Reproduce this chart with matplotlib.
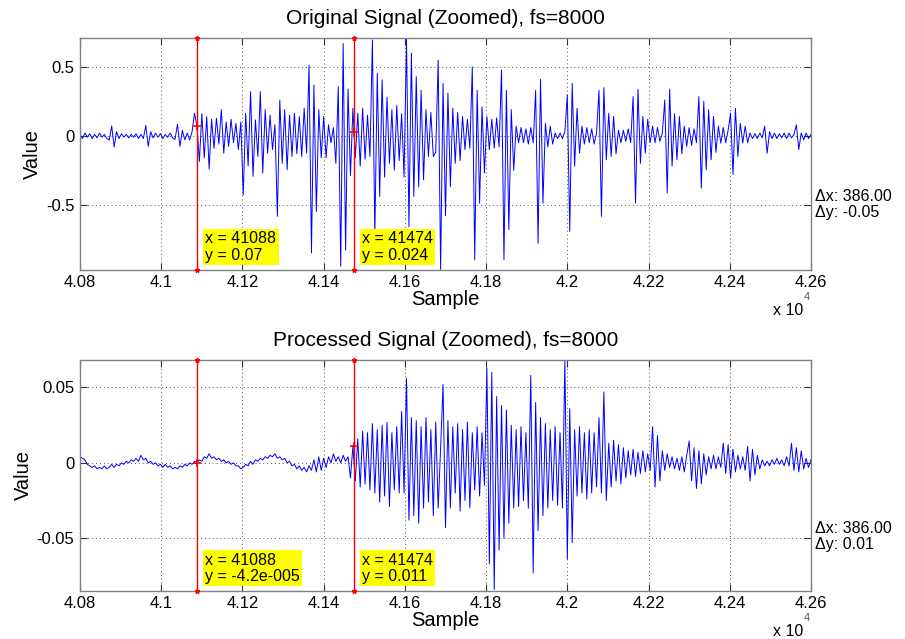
import matplotlib
matplotlib.use("Agg")
import matplotlib.pyplot as plt
import numpy as np
from matplotlib.ticker import FuncFormatter


# sample axis of the zoomed window (one value read every 6 samples)
SAMPLE_START = 40800
SAMPLE_STEP = 6
X_LIMITS = (40800, 42600)
X_TICKS = list(range(40800, 42601, 200))

ORIGINAL_VALUES = [
    0.01, -0.02, 0.02, -0.01, 0.015, -0.02, 0.01, -0.015, 0.02, -0.01, 0.01, -0.02, -0.03,
    0.072, -0.082, 0.03, -0.02, 0.015, -0.01, 0.01, -0.015, 0.01, -0.01, 0.015, -0.02,
    0.01, -0.02, 0.075, -0.077, 0.03, -0.015, 0.02, -0.01, 0.015, -0.02, 0.01, -0.01, 0.02,
    -0.015, -0.025, 0.085, -0.077, 0.04, -0.03, 0.02, -0.03, 0.03, 0.164, 0.07, -0.186,
    0.16, -0.16, 0.14, -0.242, 0.12, -0.09, 0.128, -0.06, 0.19, -0.126, 0.1, -0.077, 0.12,
    -0.05, 0.09, -0.1, 0.1, -0.43, 0.164, -0.22, 0.32, -0.295, 0.116, -0.15, 0.32,
    -0.27, 0.19, -0.126, 0.15, -0.1, 0.08, -0.585, 0.26, -0.2, 0.19, -0.246, 0.15, -0.15,
    0.164, -0.13, 0.14, -0.15, 0.2, -0.126, 0.514, -0.85, 0.37, -0.55, 0.19, -0.16,
    0.14, -0.16, 0.08, -0.05, 0.06, -0.2, 0.357, -0.947, 0.67, -0.83, 0.34, -0.29, 0.2,
    -0.16, 0.164, -0.22, 0.2, -0.17, 0.15, -0.15, 0.696, -0.73, 0.454, -0.44, 0.406,
    -0.3, 0.28, -0.2, 0.19, -0.25, 0.22, -0.18, 0.16, -0.3, 0.70, -0.66, 0.6, -0.44,
    0.43, -0.37, 0.33, -0.32, 0.19, -0.15, 0.17, -0.15, -0.12, 0.55, -0.97, 0.38,
    -0.58, 0.31, -0.37, 0.2, -0.2, 0.17, -0.18, 0.14, -0.1, 0.12, -0.09, 0.50, -0.90,
    0.33, -0.49, 0.21, -0.27, 0.14, -0.1, 0.12, -0.09, 0.13, -0.08, 0.478, -0.90,
    0.33, -0.68, 0.19, -0.25, 0.07, -0.05, 0.06, -0.05, 0.05, -0.06, 0.06, -0.05, 0.33,
    -0.78, 0.41, -0.49, 0.09, -0.08, 0.07, -0.06, 0.02, -0.02, 0.02, -0.02, 0.03,
    0.297, -0.694, 0.38, -0.22, 0.2, -0.126, 0.07, -0.06, 0.06, -0.05, 0.05, -0.06, 0.02,
    0.33, -0.585, 0.35, -0.174, 0.164, -0.15, 0.14, -0.13, 0.04, -0.05, 0.04, -0.04,
    0.05, -0.05, 0.285, -0.488, 0.338, -0.2, 0.14, -0.126, 0.12, -0.05, 0.07, -0.05, 0.06,
    -0.04, 0.02, 0.26, -0.415, 0.338, -0.22, 0.16, -0.174, 0.14, -0.13, 0.07, -0.077,
    0.06, -0.07, 0.05, -0.05, 0.285, -0.38, 0.25, -0.246, 0.19, -0.174, 0.14, -0.12, 0.07,
    -0.053, 0.06, -0.05, 0.04, 0.164, -0.28, 0.2, -0.15, 0.09, -0.053, 0.07, -0.05,
    0.02, -0.02, 0.015, -0.02, 0.02, -0.015, 0.07, -0.126, 0.03, -0.02, 0.02, -0.02, 0.015,
    -0.015, 0.02, -0.02, 0.02, -0.015, 0.01, 0.08, -0.1, 0.02, -0.03, 0.02, -0.02, 0.01,
]

PROCESSED_VALUES = [
    0.004, 0.003, 0.002, -0.001, -0.002, -0.003, -0.002, -0.004, -0.003, -0.004, -0.002,
    -0.004, -0.003, -0.001, -0.003, -0.001, -0.002, 0.0, -0.001, 0.001, 0.0, 0.002, 0.001,
    0.003, 0.001,
    0.005, 0.002, 0.003, 0.0, 0.001, -0.001, 0.0, -0.002, -0.001, -0.003, -0.001, -0.003,
    -0.002, -0.004, -0.003, -0.004, -0.002, -0.003, -0.001, -0.002, 0.0, -0.001, 0.001,
    0.0, 0.002,
    0.001, 0.004, 0.003, 0.006, 0.003, 0.004, 0.002, 0.003, 0.001, 0.002, 0.0, 0.001,
    -0.001, 0.0, -0.002, -0.002, -0.004, -0.003, -0.001, -0.002, 0.001, -0.001, 0.002,
    0.001, 0.003,
    0.002, 0.004, 0.003, 0.005, 0.004, 0.006, 0.003, 0.004, 0.002, 0.003, 0.0, 0.001,
    -0.002, -0.001, -0.004, -0.002, -0.005, -0.003, -0.006, -0.002, -0.005, 0.002, -0.006,
    0.004, -0.005,
    0.003, -0.003, 0.004, 0.0, 0.006, 0.001, 0.004, 0.0, 0.005, 0.001, 0.004, -0.010,
    0.011, -0.012, 0.016, -0.016, 0.021, -0.014, 0.02, -0.018, 0.026, -0.02, 0.022,
    -0.026, 0.025,
    -0.022, 0.027, -0.029, 0.02, -0.018, 0.024, -0.02, 0.034, -0.02, 0.056, -0.038, 0.03,
    -0.035, 0.028, -0.04, 0.024, -0.03, 0.03, -0.026, 0.022, -0.035, 0.027, -0.03, 0.01,
    0.052,
    -0.043, 0.028, -0.03, 0.024, -0.02, 0.026, -0.032, 0.022, -0.025, 0.027, -0.03, 0.02,
    -0.018, 0.024, -0.022, 0.02, -0.015, 0.063, -0.067, 0.060, -0.084, 0.044, -0.058,
    0.038, -0.05,
    0.035, -0.04, 0.025, -0.03, 0.022, -0.029, 0.024, -0.025, 0.02, -0.03, 0.058, -0.073,
    0.04, -0.045, 0.03, -0.035, 0.026, -0.03, 0.022, -0.025, 0.024, -0.028, 0.02, -0.03,
    0.068,
    -0.064, 0.036, -0.053, 0.022, -0.022, 0.024, -0.02, 0.02, -0.024, 0.022, -0.02, 0.02,
    -0.016, 0.03, -0.02, 0.047, -0.025, 0.013, -0.016, 0.015, -0.012, 0.012, -0.014,
    0.01, -0.01,
    0.008, -0.008, 0.009, -0.009, 0.007, -0.007, 0.008, -0.006, 0.006, -0.005, 0.024,
    -0.016, 0.018, -0.012, 0.008, -0.005, 0.006, -0.003, 0.004, -0.004, 0.003, -0.005,
    0.004, -0.006, 0.005,
    0.0145, -0.012, 0.01, -0.017, 0.008, -0.014, 0.006, -0.008, 0.004, -0.004, 0.005,
    -0.004, 0.004, -0.003, 0.013, -0.007, 0.012, -0.01, 0.009, -0.006, 0.005, -0.004,
    0.004, -0.005, 0.011,
    -0.012, 0.009, -0.008, 0.005, -0.004, 0.002, -0.002, 0.001, -0.002, 0.002, -0.001,
    0.003, -0.001, 0.002, -0.002, 0.004, -0.002, 0.013, -0.005, 0.01, -0.006, 0.008,
    -0.004, 0.003, -0.003, 0.002,
]

CURSOR_SAMPLES = [41088, 41474]
ORIGINAL_CURSOR_VALUES = [0.07, 0.024]
ORIGINAL_CURSOR_TEXT = ["0.07", "0.024"]
PROCESSED_CURSOR_VALUES = [-4.2e-5, 0.011]
PROCESSED_CURSOR_TEXT = ["-4.2e-005", "0.011"]
DELTA_X = "386.00"
ORIGINAL_DELTA_Y = "-0.05"
PROCESSED_DELTA_Y = "0.01"

ORIGINAL_YLIM = (-0.971, 0.71)
PROCESSED_YLIM = (-0.0848, 0.0682)
ORIGINAL_YTICKS = [-0.5, 0, 0.5]
PROCESSED_YTICKS = [-0.05, 0, 0.05]


def setup_style():
    plt.rcParams["font.family"] = ["Liberation Sans", "DejaVu Sans"]
    plt.rcParams["figure.facecolor"] = "white"
    plt.rcParams["axes.facecolor"] = "white"


def draw_panel(ax, values, title, ylim, yticks, cursor_y, cursor_text, delta_y, delta_pos):
    samples = SAMPLE_START + SAMPLE_STEP * np.arange(len(values))
    ax.plot(samples, values, color="#0000ff", linewidth=0.7, zorder=2)

    ax.set_xlim(*X_LIMITS)
    ax.set_ylim(*ylim)
    ax.set_xticks(X_TICKS)
    ax.set_yticks(yticks)
    ax.xaxis.set_major_formatter(FuncFormatter(lambda v, _: f"{v / 1e4:g}"))
    ax.yaxis.set_major_formatter(FuncFormatter(lambda v, _: f"{v:g}"))
    ax.tick_params(direction="in", top=True, right=True, length=5, width=0.8,
                   color="#333333", labelsize=12, pad=4)
    ax.grid(True, linestyle=(0, (1, 3)), color="#555555", linewidth=0.7)
    for spine in ax.spines.values():
        spine.set_color("#808080")
        spine.set_linewidth(1.0)

    ax.set_title(title, fontsize=15, pad=10)
    ax.set_xlabel("Sample", fontsize=14.5, labelpad=0)
    ax.set_ylabel("Value", fontsize=14.5, labelpad=3)

    # MATLAB-style exponent label under the x axis
    ax.text(0.989, -0.175, "x 10", transform=ax.transAxes, ha="right", va="center", fontsize=11.5)
    ax.text(0.990, -0.118, "4", transform=ax.transAxes, ha="left", va="center", fontsize=8,
            color="#555555")

    # data cursors
    for x, y, txt in zip(CURSOR_SAMPLES, cursor_y, cursor_text):
        ax.plot([x, x], ylim, color="red", linewidth=1.0, marker="*", markersize=3.5,
                clip_on=False, zorder=3)
        ax.plot(x, y, marker="+", markersize=6, markeredgewidth=1.2, color="red", zorder=4)
        ax.annotate(f"x = {x}\ny = {txt}", xy=(x, ylim[0]), xycoords="data",
                    xytext=(6, 5), textcoords="offset points", ha="left", va="bottom",
                    fontsize=11.5, linespacing=1.1,
                    bbox=dict(boxstyle="square,pad=0.15", fc="yellow", ec="none"), zorder=5)

    ax.text(1.005, delta_pos, f"\u0394x: {DELTA_X}\n\u0394y: {delta_y}", transform=ax.transAxes,
            ha="left", va="center", fontsize=11.5, linespacing=1.05)


def main():
    setup_style()
    fig = plt.figure(figsize=(9.05, 6.39), dpi=100)
    ax_top = fig.add_axes([0.0884, 0.5782, 0.8077, 0.3623])
    ax_bot = fig.add_axes([0.0884, 0.0756, 0.8077, 0.3610])

    draw_panel(ax_top, ORIGINAL_VALUES, "Original Signal (Zoomed), fs=8000", ORIGINAL_YLIM,
               ORIGINAL_YTICKS, ORIGINAL_CURSOR_VALUES, ORIGINAL_CURSOR_TEXT,
               ORIGINAL_DELTA_Y, 0.28)
    draw_panel(ax_bot, PROCESSED_VALUES, "Processed Signal (Zoomed), fs=8000", PROCESSED_YLIM,
               PROCESSED_YTICKS, PROCESSED_CURSOR_VALUES, PROCESSED_CURSOR_TEXT,
               PROCESSED_DELTA_Y, 0.236)

    fig.savefig("out.png", dpi=100)
    plt.close(fig)


if __name__ == "__main__":
    main()
